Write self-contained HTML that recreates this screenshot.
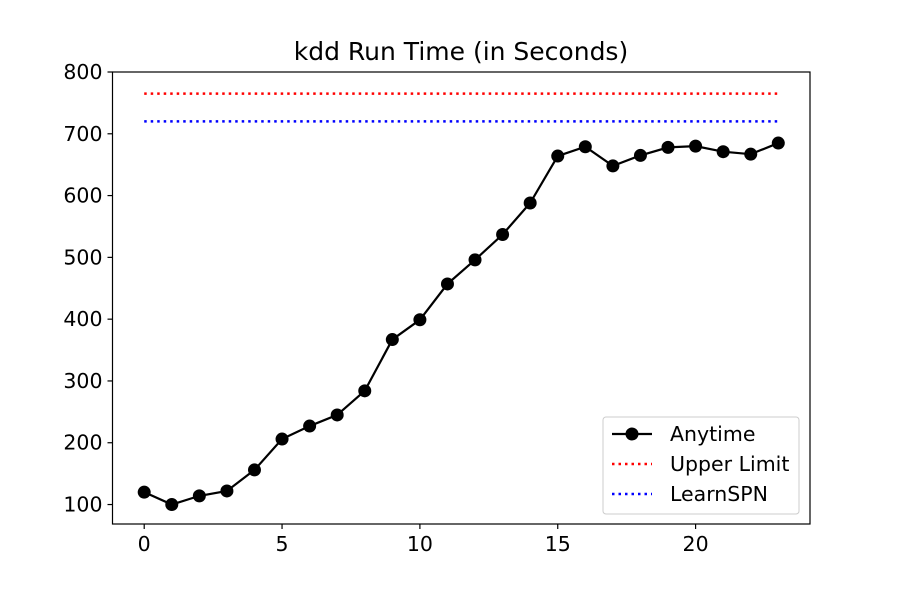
<!DOCTYPE html>
<html><head><meta charset="utf-8"><style>body{margin:0;background:#fff}svg{display:block;font-family:"DejaVu Sans","Liberation Sans",sans-serif}</style></head>
<body>
<svg id="c" width="900" height="600" xmlns="http://www.w3.org/2000/svg"></svg>
<script>
const xs = [0,1,2,3,4,5,6,7,8,9,10,11,12,13,14,15,16,17,18,19,20,21,22,23];
const anytime = [120,100,114,122,156,206,227,245,284,367,399,457,496,537,588,664,679,648,665,678,680,671,667,685];
const upperLimit = [765];
const learnSPN = [720];
const xTicks = [0,5,10,15,20];
const yTicks = [100,200,300,400,500,600,700,800];
const L=112.5,R=810,T=72,B=524;
const xMin=-1.15,xMax=24.15,yMin=68.5,yMax=800;
const X=v=>L+(v-xMin)/(xMax-xMin)*(R-L);
const Y=v=>B-(v-yMin)/(yMax-yMin)*(B-T);
const s=document.getElementById('c');const NS='http://www.w3.org/2000/svg';
function mk(t,a,p){const e=document.createElementNS(NS,t);for(const k in a)e.setAttribute(k,a[k]);(p||s).appendChild(e);return e;}
let t=mk('text',{x:461,y:60,'text-anchor':'middle','font-size':25});t.textContent='kdd Run Time (in Seconds)';


xTicks.forEach(v=>{let l=mk('line',{x1:X(v),x2:X(v),y1:B,y2:B+5,stroke:'#000','stroke-width':1.2});


let tx=mk('text',{x:X(v),y:B+27,'text-anchor':'middle','font-size':20.5});tx.textContent=v;

});
yTicks.forEach(v=>{let l=mk('line',{x1:L-5,x2:L,y1:Y(v),y2:Y(v),stroke:'#000','stroke-width':1.2});


let tx=mk('text',{x:L-10,y:Y(v)+7,'text-anchor':'end','font-size':20.5});tx.textContent=v;

});
let u=mk('line',{x1:X(xs[0]),x2:X(xs[xs.length-1]),y1:Y(upperLimit[0]),y2:Y(upperLimit[0]),stroke:'#f00','stroke-width':2.5,'stroke-dasharray':'2.5 4'});


let b=mk('line',{x1:X(xs[0]),x2:X(xs[xs.length-1]),y1:Y(learnSPN[0]),y2:Y(learnSPN[0]),stroke:'#00f','stroke-width':2.5,'stroke-dasharray':'2.5 4'});


let p=mk('polyline',{points:xs.map((x,i)=>X(x)+','+Y(anytime[i])).join(' '),fill:'none',stroke:'#000','stroke-width':2.2});


xs.forEach((x,i)=>{let c=mk('circle',{cx:X(x),cy:Y(anytime[i]),r:6.5,fill:'#000'});

});
let f=mk('rect',{x:L,y:T,width:R-L,height:B-T,fill:'none',stroke:'#000','stroke-width':1.2});


let g=mk('g',{});


mk('rect',{x:603,y:417,width:196,height:97,rx:3,fill:'#fff',stroke:'#ccc','stroke-width':1},g);
mk('line',{x1:612,x2:652,y1:434,y2:434,stroke:'#000','stroke-width':2.2},g);
mk('circle',{cx:632,cy:434,r:6.5,fill:'#000'},g);
mk('line',{x1:612,x2:652,y1:464,y2:464,stroke:'#f00','stroke-width':2.5,'stroke-dasharray':'2.5 4'},g);
mk('line',{x1:612,x2:652,y1:494,y2:494,stroke:'#00f','stroke-width':2.5,'stroke-dasharray':'2.5 4'},g);
[['Anytime',441],['Upper Limit',471],['LearnSPN',501]].forEach(([n,y])=>{let tx=mk('text',{x:670,y:y,'font-size':20.5},g);tx.textContent=n;

});
</script>
</body></html>
